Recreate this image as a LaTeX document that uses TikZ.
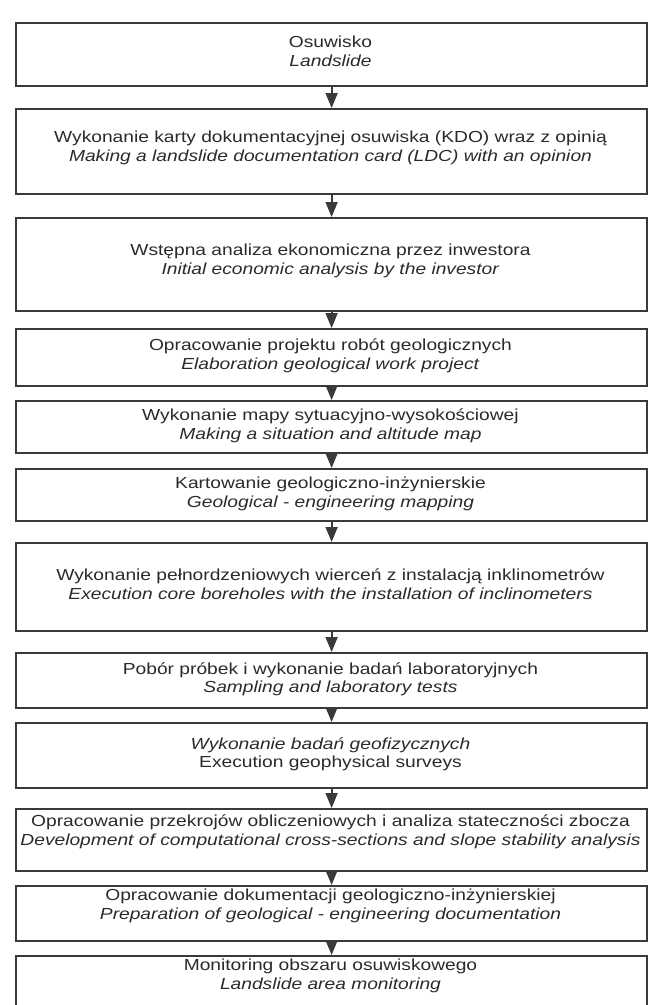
\documentclass[tikz,border=0pt]{standalone}
\usepackage{fontspec}
\setmainfont[FakeStretch=1.2]{Liberation Sans}
\usetikzlibrary{arrows.meta}
\definecolor{ln}{HTML}{3A3A3A}
\definecolor{tx}{HTML}{2A2A2A}
\begin{document}
\begin{tikzpicture}[x=1pt,y=-1pt,
  box/.style={draw=ln, line width=2.2pt, minimum width=631pt, inner sep=0pt, anchor=north west},
  txt/.style={align=center, text=tx, font=\fontsize{16}{18.5}\selectfont, inner sep=0pt},
  arr/.style={draw=ln, line width=1.8pt, -{Triangle[width=12pt,length=15pt]}}]
\useasboundingbox (0,0) rectangle (648,1005);
\node[box, minimum height=63] (b1) at (15,22) {};
\node[txt] (t1) at (330.5,51.5) {Osuwisko\\\textit{Landslide}};
\node[box, minimum height=85] (b2) at (15,108) {};
\node[txt] (t2) at (330.5,148) {Wykonanie karty dokumentacyjnej osuwiska (KDO) wraz z opinią\\\textit{Making a landslide documentation card (LDC) with an opinion}};
\node[box, minimum height=93] (b3) at (15,217) {};
\node[txt] (t3) at (330.5,261) {Wstępna analiza ekonomiczna przez inwestora\\\textit{Initial economic analysis by the investor}};
\node[box, minimum height=57] (b4) at (15,328) {};
\node[txt] (t4) at (330.5,356) {Opracowanie projektu robót geologicznych\\\textit{Elaboration geological work project}};
\node[box, minimum height=52] (b5) at (15,400) {};
\node[txt] (t5) at (330.5,426) {Wykonanie mapy sytuacyjno-wysokościowej\\\textit{Making a situation and altitude map}};
\node[box, minimum height=52] (b6) at (15,468) {};
\node[txt] (t6) at (330.5,494) {Kartowanie geologiczno-inżynierskie\\\textit{Geological - engineering mapping}};
\node[box, minimum height=88] (b7) at (15,542) {};
\node[txt] (t7) at (330.5,584) {Wykonanie pełnordzeniowych wierceń z instalacją inklinometrów\\\textit{Execution core boreholes with the installation of inclinometers}};
\node[box, minimum height=55] (b8) at (15,652) {};
\node[txt] (t8) at (330.5,679.5) {Pobór próbek i wykonanie badań laboratoryjnych\\\textit{Sampling and laboratory tests}};
\node[box, minimum height=65] (b9) at (15,722) {};
\node[txt] (t9) at (330.5,754.5) {\textit{Wykonanie badań geofizycznych}\\Execution geophysical surveys};
\node[box, minimum height=62] (b10) at (15,808) {};
\node[txt] (t10) at (330.5,832) {Opracowanie przekrojów obliczeniowych i analiza stateczności zbocza\\\textit{Development of computational cross-sections and slope stability analysis}};
\node[box, minimum height=55] (b11) at (15,885) {};
\node[txt] (t11) at (330.5,906) {Opracowanie dokumentacji geologiczno-inżynierskiej\\\textit{Preparation of geological - engineering documentation}};
\node[box, minimum height=62] (b12) at (15,955) {};
\node[txt] (t12) at (330.5,976) {Monitoring obszaru osuwiskowego\\\textit{Landslide area monitoring}};
\draw[arr] (b1.south) -- (b2.north);
\draw[arr] (b2.south) -- (b3.north);
\draw[arr] (b3.south) -- (b4.north);
\draw[arr] (b4.south) -- (b5.north);
\draw[arr] (b5.south) -- (b6.north);
\draw[arr] (b6.south) -- (b7.north);
\draw[arr] (b7.south) -- (b8.north);
\draw[arr] (b8.south) -- (b9.north);
\draw[arr] (b9.south) -- (b10.north);
\draw[arr] (b10.south) -- (b11.north);
\draw[arr] (b11.south) -- (b12.north);
\end{tikzpicture}
\end{document}
